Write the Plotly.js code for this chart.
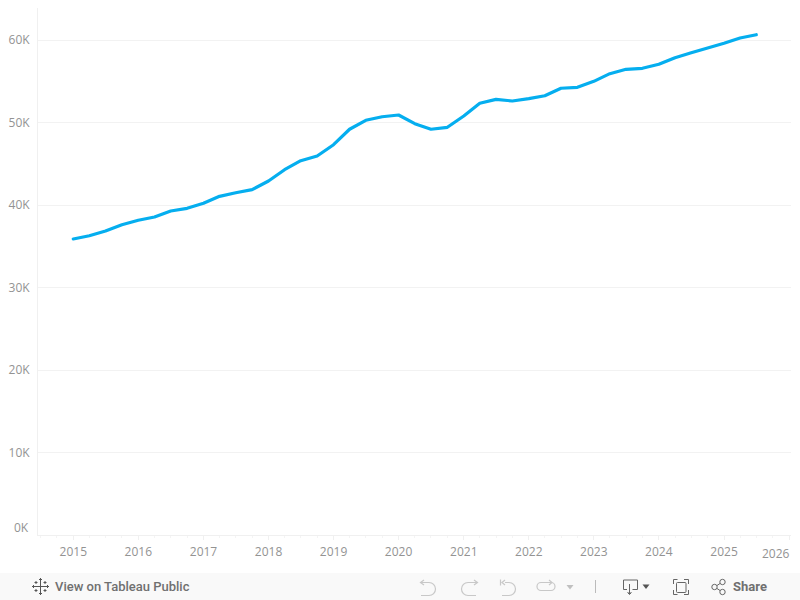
<!DOCTYPE html>
<html>
<head>
<meta charset="utf-8">
<script src="https://cdn.plot.ly/plotly-3.0.1.min.js"></script>
<style>
html,body{margin:0;padding:0;background:#fff;overflow:hidden}
#chart{position:absolute;left:0;top:0;width:800px;height:573px}
#chart .js-line{stroke-linecap:round;stroke-linejoin:round}
#bar{position:absolute;left:0;top:573px;width:800px;height:27px;background:#f9f9f9}
#bar svg{position:absolute;left:0;top:0}
#bar span{position:absolute;font-family:Roboto,sans-serif;color:#707070;font-size:13px;font-weight:500;line-height:27px;top:0}
</style>
</head>
<body>
<div id="chart"></div>
<div id="bar">
<svg width="800" height="27" fill="none">
<g stroke="#555" stroke-width="1">
<path d="M40.500 8v11M35 13.500h11"/>
<path d="M40.500 5v3M39 6.500h3M40.500 19v3M39 20.500h3M32 13.500h3M33.500 12v3M46 13.500h3M47.500 12v3"/>
<path d="M36 8v3M34.500 9.500h3M45 8v3M43.500 9.500h3M36 16v3M34.500 17.500h3M45 16v3M43.500 17.500h3"/>
</g>
<g stroke="#c8c8c8" stroke-width="1.200">
<path d="M421 9.500h8a6.500 6.500 0 0 1 0 13h-8M424 7l-3.500 2.500 3.500 2.500"/>
<path d="M477 9.500h-9a6.500 6.500 0 0 0 0 13h8M474 7l3.500 2.500-3.500 2.500"/>
<path d="M500.500 6.500v6M505 9.500h4a6.500 6.500 0 0 1 0 13h-7M505 7l-3 2.500 3 2.500"/>
<path d="M551 9.500h-10a4 4 0 0 0 0 8h10a4 4 0 0 0 0-8M549 7l3 2.500-3 2.500"/>
</g>
<path d="M566.500 12h7l-3.500 4.500z" fill="#c0c0c0"/>
<path d="M595.500 7v13" stroke="#bbb"/>
<g stroke="#666" stroke-width="1">
<path d="M627 16.500h-3.500v-9.500h14v9.500h-5M629.500 11v9.500"/>
<path d="M627.500 19.500l2 2 2-2" fill="#666"/>
<rect x="676.500" y="9.500" width="9.500" height="10" rx="1"/>
<path d="M673.500 11v-4.500h4M684 6.500h4.500v4.500M688.500 17v4.500h-4.500M677.500 21.500h-4v-4.500"/>
<circle cx="714.500" cy="14" r="2.700"/><circle cx="722.500" cy="9" r="2.700"/><circle cx="722.500" cy="19" r="2.700"/>
<path d="M717 12.500l3-2M717 15.500l3 2"/>
</g>
<path d="M642.500 11.500h7l-3.500 4.500z" fill="#555"/>
</svg>
<span style="left:55px">View on Tableau Public</span>
<span style="left:733px;font-weight:700">Share</span>
</div>
<script>
const quarters = ["2015-01-01","2015-04-01","2015-07-01","2015-10-01","2016-01-01","2016-04-01","2016-07-01","2016-10-01",
"2017-01-01","2017-04-01","2017-07-01","2017-10-01","2018-01-01","2018-04-01","2018-07-01","2018-10-01",
"2019-01-01","2019-04-01","2019-07-01","2019-10-01","2020-01-01","2020-04-01","2020-07-01","2020-10-01",
"2021-01-01","2021-04-01","2021-07-01","2021-10-01","2022-01-01","2022-04-01","2022-07-01","2022-10-01",
"2023-01-01","2023-04-01","2023-07-01","2023-10-01","2024-01-01","2024-04-01","2024-07-01","2024-10-01",
"2025-01-01","2025-04-01","2025-07-01"];
const values = [35880,36280,36850,37610,38150,38550,39270,39600,
40210,41050,41490,41860,42910,44280,45370,45940,
47310,49180,50270,50700,50910,49860,49180,49420,
50790,52330,52810,52610,52890,53250,54150,54270,
54990,55920,56450,56570,57060,57860,58460,58990,
59600,60240,60640];
const yTicks = [10000,20000,30000,40000,50000,60000];
const yLabels = ["10K","20K","30K","40K","50K","60K"];
const xTicks = ["2015-01-01","2016-01-01","2017-01-01","2018-01-01","2019-01-01","2020-01-01","2021-01-01","2022-01-01","2023-01-01","2024-01-01","2025-01-01"];
const xLabels = ["2015","2016","2017","2018","2019","2020","2021","2022","2023","2024","2025"];
const tickFont = {family:"Open Sans, sans-serif", size:12, color:"#939393"};
Plotly.newPlot("chart",[{
  x:quarters,y:values,type:"scatter",mode:"lines",
  line:{color:"#05aeef",width:3.2,shape:"linear"},hoverinfo:"x+y"
}],{
  width:800,height:573,
  margin:{l:38,r:9,t:8,b:38},
  paper_bgcolor:"#fff",plot_bgcolor:"#fff",
  showlegend:false,
  xaxis:{type:"date",range:["2014-06-17","2026-01-12"],tickmode:"array",tickvals:xTicks.concat(["2026-01-01"]),ticktext:xLabels.concat([""]),
    showgrid:false,zeroline:false,showline:true,linecolor:"#f0f0f0",linewidth:1,
    ticks:"outside",ticklen:4,tickcolor:"#f0f0f0",tickfont:tickFont,ticklabelstandoff:2,
    minor:{dtick:"M3",ticks:"outside",ticklen:2,tickcolor:"#f4f4f4",showgrid:false}},
  yaxis:{range:[0,63880],tickmode:"array",tickvals:yTicks,ticktext:yLabels,
    showgrid:true,gridcolor:"#f2f2f2",gridwidth:1,zeroline:false,showline:true,linecolor:"#f0f0f0",linewidth:1,
    ticks:"",tickfont:tickFont,ticklabelstandoff:5},
  annotations:[
    {xref:"paper",yref:"y",x:0,y:0,text:"0K",showarrow:false,xanchor:"right",yanchor:"middle",xshift:-7,yshift:8,font:tickFont},
    {xref:"x",yref:"paper",x:"2026-01-01",y:0,text:"2026",showarrow:false,xanchor:"center",yanchor:"top",xshift:-13,yshift:-8,font:tickFont}
  ]
},{displayModeBar:false,responsive:false});
</script>
</body>
</html>
